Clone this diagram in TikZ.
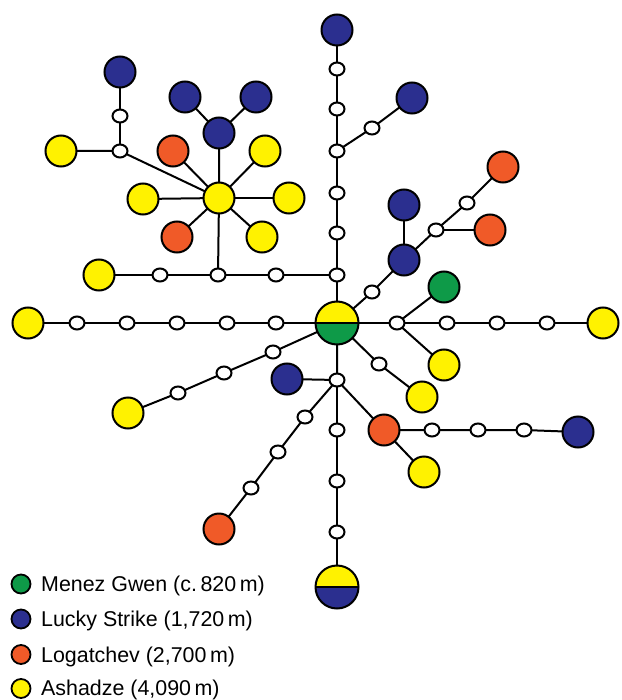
\documentclass[tikz,border=0pt]{standalone}
\usepackage{fontspec}
\setmainfont{Liberation Sans}
\usetikzlibrary{shapes.geometric,backgrounds}
\definecolor{cgreen}{HTML}{0E9A48}
\definecolor{cblue}{HTML}{2B2F8F}
\definecolor{corange}{HTML}{F05A28}
\definecolor{cyellow}{HTML}{FFF200}
\begin{document}
\begin{tikzpicture}[x=1pt,y=-1pt,
  big/.style={circle,draw=black,line width=2pt,minimum size=31pt,inner sep=0pt},
  Y/.style={big,fill=cyellow},
  B/.style={big,fill=cblue},
  O/.style={big,fill=corange},
  G/.style={big,fill=cgreen},
  sm/.style={ellipse,draw=black,fill=white,line width=2pt,minimum width=15pt,minimum height=13pt,inner sep=0pt},
  half/.style 2 args={circle,draw=black,line width=2pt,minimum size=43pt,inner sep=0pt,
    path picture={
      \fill[#1] (path picture bounding box.north west) rectangle (path picture bounding box.east);
      \fill[#2] (path picture bounding box.west) rectangle (path picture bounding box.south east);
      \draw[line width=2pt] (path picture bounding box.west) -- (path picture bounding box.east);
    }},
  edge/.style={line width=2pt},
  leg/.style={circle,draw=black,line width=1.8pt,minimum size=19pt,inner sep=0pt},
  legtext/.style={anchor=base west,inner sep=0pt,font=\fontsize{21.4}{25}\selectfont}
]
\useasboundingbox (0,0) rectangle (621,700);

% hub
\node[half={cyellow}{cgreen}] (H) at (337,323) {};

% vertical up
\node[sm] (v1) at (337,275) {};
\node[sm] (v2) at (337,233) {};
\node[sm] (v3) at (337,193) {};
\node[sm] (v4) at (337,151) {};
\node[sm] (v5) at (337,109) {};
\node[sm] (v6) at (337,69) {};
\node[B] (B1) at (337,30) {};
\node[sm] (w1) at (372,128) {};
\node[B] (B2) at (412,98) {};

% upper left row
\node[sm] (a1) at (276,275) {};
\node[sm] (a2) at (218,275) {};
\node[sm] (a3) at (160,275) {};
\node[Y] (Ya) at (99,275) {};

% yellow star
\node[Y] (YH) at (219,198) {};
\node[B] (B3) at (219,133) {};
\node[B] (B3a) at (185,97) {};
\node[B] (B3b) at (256,97) {};
\node[O] (O1) at (173,151) {};
\node[Y] (Y1) at (265,151) {};
\node[Y] (Y2) at (143,199) {};
\node[Y] (Y3) at (289,198) {};
\node[O] (O2) at (177,237) {};
\node[Y] (Y4) at (262,237) {};
\node[sm] (j1) at (120,151) {};
\node[Y] (Y5) at (61,151) {};
\node[sm] (j2) at (120,116) {};
\node[B] (B4) at (120,72) {};

% left row
\node[sm] (b1) at (276,323) {};
\node[sm] (b2) at (227,323) {};
\node[sm] (b3) at (177,323) {};
\node[sm] (b4) at (127,323) {};
\node[sm] (b5) at (77,323) {};
\node[Y] (Yb) at (28,323) {};

% upper right diagonal
\node[sm] (c1) at (372,292) {};
\node[B] (B5) at (404,260) {};
\node[B] (B6) at (404,205) {};
\node[sm] (c2) at (436,230) {};
\node[sm] (c3) at (467,203) {};
\node[O] (O3) at (503,167) {};
\node[O] (O4) at (490,230) {};

% right row
\node[sm] (d1) at (397,323) {};
\node[sm] (d2) at (447,323) {};
\node[sm] (d3) at (497,323) {};
\node[sm] (d4) at (547,323) {};
\node[Y] (Yd) at (603,323) {};
\node[G] (G1) at (444,287) {};
\node[Y] (Yd2) at (444,365) {};

% lower right
\node[sm] (e1) at (379,364) {};
\node[Y] (Ye) at (422,397) {};

% down
\node[sm] (f1) at (337,380) {};
\node[B] (B7) at (287,379) {};
\node[O] (O5) at (384,430) {};
\node[sm] (g1) at (432,430) {};
\node[sm] (g2) at (478,430) {};
\node[sm] (g3) at (524,430) {};
\node[B] (B8) at (578,432) {};
\node[Y] (Yg) at (424,472) {};
\node[sm] (f2) at (337,430) {};
\node[sm] (f3) at (337,481) {};
\node[sm] (f4) at (337,532) {};
\node[half={cyellow}{cblue}] (H2) at (337,587) {};
\node[sm] (h1) at (305,417) {};
\node[sm] (h2) at (278,452) {};
\node[sm] (h3) at (251,488) {};
\node[O] (O6) at (219,529) {};

% lower left
\node[sm] (k1) at (273,352) {};
\node[sm] (k2) at (224,373) {};
\node[sm] (k3) at (178,393) {};
\node[Y] (Yk) at (128,413) {};

\begin{scope}[on background layer]
\draw[edge] (H.center) -- (v1.center) -- (v2.center) -- (v3.center) -- (v4.center) -- (v5.center) -- (v6.center) -- (B1.center);
\draw[edge] (v4.center) -- (w1.center) -- (B2.center);
\draw[edge] (v1.center) -- (a1.center) -- (a2.center) -- (a3.center) -- (Ya.center);
\draw[edge] (a2.center) -- (YH.center) -- (B3.center) -- (B3a.center);
\draw[edge] (B3.center) -- (B3b.center);
\draw[edge] (YH.center) -- (O1.center);
\draw[edge] (YH.center) -- (Y1.center);
\draw[edge] (YH.center) -- (Y2.center);
\draw[edge] (YH.center) -- (Y3.center);
\draw[edge] (YH.center) -- (O2.center);
\draw[edge] (YH.center) -- (Y4.center);
\draw[edge] (YH.center) -- (j1.center) -- (Y5.center);
\draw[edge] (j1.center) -- (j2.center) -- (B4.center);
\draw[edge] (H.center) -- (b1.center) -- (b2.center) -- (b3.center) -- (b4.center) -- (b5.center) -- (Yb.center);
\draw[edge] (H.center) -- (c1.center) -- (B5.center) -- (c2.center) -- (c3.center) -- (O3.center);
\draw[edge] (B5.center) -- (B6.center);
\draw[edge] (c2.center) -- (O4.center);
\draw[edge] (H.center) -- (d1.center) -- (d2.center) -- (d3.center) -- (d4.center) -- (Yd.center);
\draw[edge] (d1.center) -- (G1.center);
\draw[edge] (d1.center) -- (Yd2.center);
\draw[edge] (H.center) -- (e1.center) -- (Ye.center);
\draw[edge] (H.center) -- (f1.center) -- (B7.center);
\draw[edge] (f1.center) -- (O5.center) -- (g1.center) -- (g2.center) -- (g3.center) -- (B8.center);
\draw[edge] (O5.center) -- (Yg.center);
\draw[edge] (f1.center) -- (f2.center) -- (f3.center) -- (f4.center) -- (H2.center);
\draw[edge] (f1.center) -- (h1.center) -- (h2.center) -- (h3.center) -- (O6.center);
\draw[edge] (H.center) -- (k1.center) -- (k2.center) -- (k3.center) -- (Yk.center);
\end{scope}

% legend
\node[leg,fill=cgreen] (L1) at (21,584) {};
\node[leg,fill=cblue] (L2) at (21,619) {};
\node[leg,fill=corange] (L3) at (21,654.5) {};
\node[leg,fill=cyellow] (L4) at (21,688.5) {};
\node[legtext] (T1) at (41,591.5) {Menez Gwen (c.\,820\,m)};
\node[legtext] (T2) at (41,626.5) {Lucky Strike (1,720\,m)};
\node[legtext] (T3) at (41,662) {Logatchev (2,700\,m)};
\node[legtext] (T4) at (41,695.5) {Ashadze (4,090\,m)};
\end{tikzpicture}
\end{document}
